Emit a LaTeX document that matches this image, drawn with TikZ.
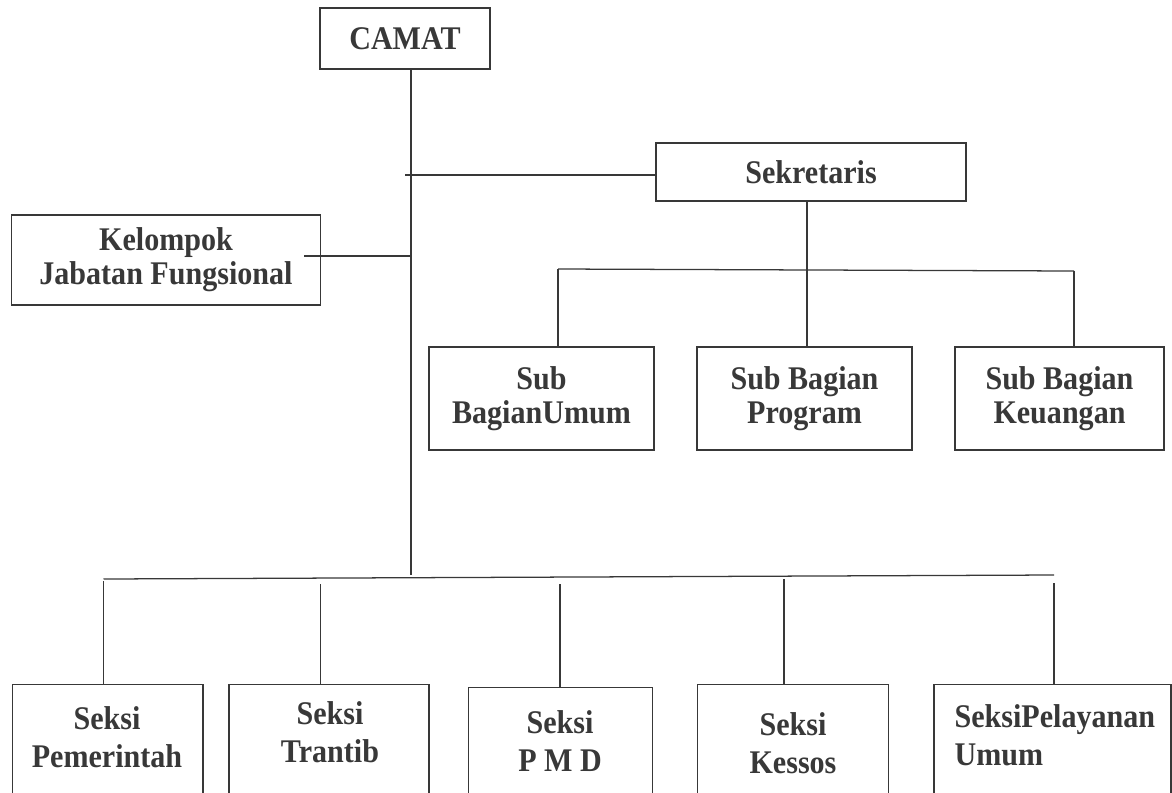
\documentclass[tikz,border=0pt]{standalone}
\usepackage{fontspec}
\setmainfont{Liberation Serif}[FakeStretch=0.91]

\begin{document}
\begin{tikzpicture}[x=0.025cm, y=-0.025cm, line width=0.9pt, color=black!78,
    font=\bfseries\fontsize{23.5}{24.2}\selectfont,
    unit/.style 2 args={draw, minimum width=#1*0.025cm, minimum height=#2*0.025cm, inner sep=0pt, align=center},
    seksi/.style={unit={#1}{130}, anchor=north},
    seksitext/.style={align=center, inner sep=0pt, font=\bfseries\fontsize{23.5}{27}\selectfont}]
    \useasboundingbox (0,0) rectangle (1172,792);
    \clip (0,0) rectangle (1172,792);
    % Camat
    \node[unit={170}{61}] (camat) at (405,38.5) {CAMAT};
    % Sekretaris
    \node[unit={310}{58}] (sek) at (811,172) {Sekretaris};
    % Kelompok jabatan fungsional
    \node[unit={309}{90}] (kel) at (166,260) {Kelompok\\Jabatan Fungsional};
    % Sub bagian
    \node[unit={225}{103}] (umum) at (541.5,398.5) {Sub\\BagianUmum};
    \node[unit={215}{103}] (prog) at (804.5,398.5) {Sub Bagian\\Program};
    \node[unit={209}{103}] (keu) at (1059.5,398.5) {Sub Bagian\\Keuangan};
    % Seksi
    \node[seksi=190.6] (pem) at (107.7,684) {};
    \node[seksi=200] (tra) at (329,684) {};
    \node[seksi=184] (pmd) at (560.7,687) {};
    \node[seksi=191] (kes) at (793,684) {};
    \node[seksi=237] (pel) at (1052.5,684) {};
    \node[seksitext] (pem-t) at (107,737) {Seksi\\Pemerintah};
    \node[seksitext] (tra-t) at (330,732.5) {Seksi\\Trantib};
    \node[seksitext] (pmd-t) at (560,741.5) {Seksi\\P M D};
    \node[seksitext] (kes-t) at (793,743) {Seksi\\Kessos};
    \node[seksitext, align=left, anchor=west] (pel-t) at (954,735) {SeksiPelayanan\\Umum};
    % Garis komando
    \coordinate (trunk) at (411,575);
    \draw (camat.south -| trunk) -- (trunk);
    \coordinate (sekL) at (405,175);
    \draw (sekL) -- (sek.west |- sekL);
    \coordinate (kelR) at (411,256);
    \draw (kelR) -- (kelR -| kel.east) -- ++(-17,0);
    % Bagan sekretaris
    \coordinate (sbL) at (558,269);
    \coordinate (sbM) at (807,270);
    \coordinate (sbR) at (1074,271);
    \draw (sbL) -- (sbR);
    \draw (sek.south -| sbM) -- (sbM |- prog.north);
    \draw (sbL) -- (sbL |- umum.north);
    \draw (sbR) -- (sbR |- keu.north);
    % Bagan seksi
    \coordinate (bL) at (103.5,579);
    \coordinate (bR) at (1054,575);
    \draw (bL) -- (bR);
    \foreach \n/\x/\y in {pem/103.5/581, tra/320.7/584, pmd/560/584, kes/784/579, pel/1054/583}{
        \coordinate (tap) at (\x,\y);
        \draw (tap) -- (tap |- \n.north);
    }
\end{tikzpicture}
\end{document}
